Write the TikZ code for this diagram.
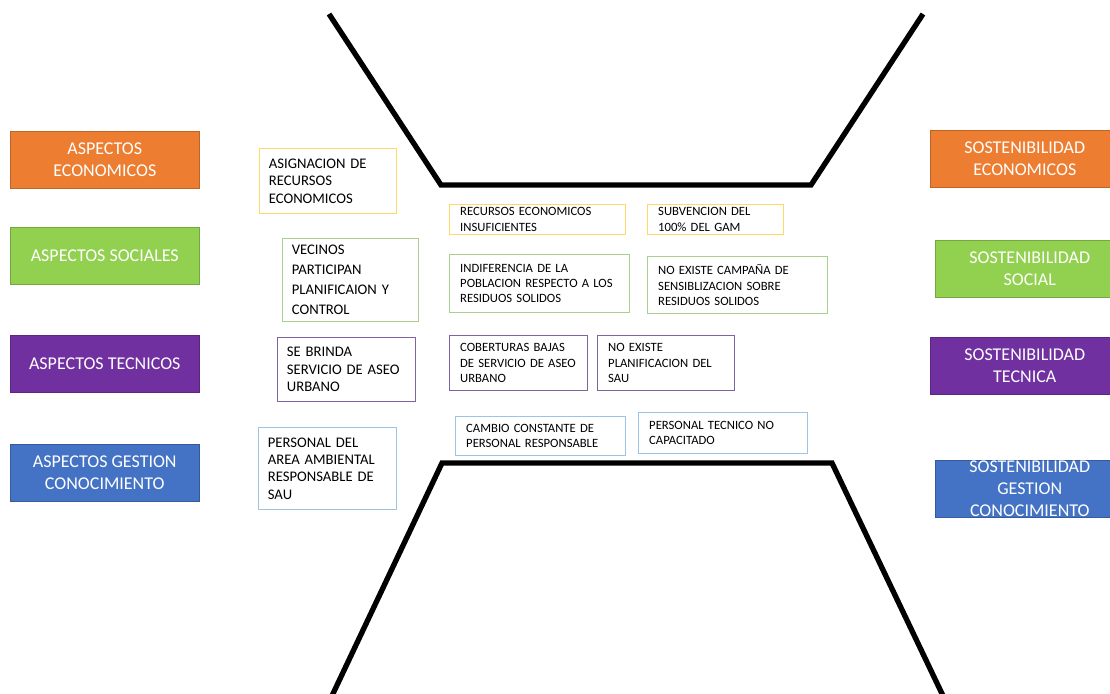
\documentclass[tikz,border=0pt]{standalone}
\usepackage{fontspec}
\setmainfont{Carlito}
\definecolor{naranja}{HTML}{ED7D31}
\definecolor{verde}{HTML}{92D050}
\definecolor{morado}{HTML}{7030A0}
\definecolor{azul}{HTML}{4472C4}
\definecolor{amarillo}{HTML}{FFD966}
\definecolor{verdeclaro}{HTML}{A9D18E}
\definecolor{celeste}{HTML}{9DC3E6}
\definecolor{lila}{HTML}{8064A2}
\begin{document}
\begin{tikzpicture}[x=0.75pt,y=-0.75pt,
    aspecto/.style={draw=#1!80!black,fill=#1,text=white,anchor=north west,align=center,
      minimum width=189*0.75pt,minimum height=57*0.75pt,inner sep=0pt,
      font=\fontsize{13.5}{16.5}\selectfont},
    tw/.code={\pgfmathsetlengthmacro\anchotexto{#1*0.75pt-2*\pgfkeysvalueof{/pgf/inner xsep}}%
      \pgfkeysalso{text width=\anchotexto}},
    dim/.style 2 args={tw=#1,minimum height=#2*0.75pt},
    lado/.style={draw=#1,line width=0.8pt,anchor=north west,align=left,inner xsep=7pt,
      inner ysep=2pt,font=\fontsize{11}{13}\selectfont},
    medio/.style={draw=#1,line width=0.8pt,anchor=north west,align=left,inner xsep=8pt,
      inner ysep=2pt,font=\fontsize{9.5}{11.5}\selectfont},
    embudo/.style={line width=4pt}]
  \useasboundingbox (0,0) rectangle (1110,693);
  \clip (0,0) rectangle (1110,693);

  \draw[embudo] (329,14) -- (441,185) -- (811,185) -- (923,14);
  \draw[embudo] (330,700) -- (442,463) -- (832,463) -- (945,700);

  \node[aspecto=naranja] (econ) at (10,131) {ASPECTOS\\ECONOMICOS};
  \node[aspecto=verde]   (soc)  at (10,227) {ASPECTOS SOCIALES};
  \node[aspecto=morado]  (tec)  at (10,335) {ASPECTOS TECNICOS};
  \node[aspecto=azul]    (gest) at (10,444) {ASPECTOS GESTION\\CONOCIMIENTO};

  \node[aspecto=naranja] (sosecon) at (930,130) {SOSTENIBILIDAD\\ECONOMICOS};
  \node[aspecto=verde]   (sossoc)  at (935,240) {SOSTENIBILIDAD\\SOCIAL};
  \node[aspecto=morado]  (sostec)  at (930,337) {SOSTENIBILIDAD\\TECNICA};
  \node[aspecto=azul]    (sosgest) at (935,460) {SOSTENIBILIDAD\\GESTION\\CONOCIMIENTO};

  \node[lado=amarillo,dim={137}{65}] (asig) at (259,148) {ASIGNACION DE\\RECURSOS\\ECONOMICOS};
  \node[lado=verdeclaro,dim={136}{83},font=\fontsize{11}{15}\selectfont] (vecinos) at (282,238)
    {VECINOS\\PARTICIPAN\\PLANIFICAION Y\\CONTROL};
  \node[lado=lila,dim={138}{64}] (brinda) at (277,337) {SE BRINDA\\SERVICIO DE ASEO\\URBANO};
  \node[lado=celeste,dim={138}{82}] (personal) at (258,427)
    {PERSONAL DEL\\AREA AMBIENTAL\\RESPONSABLE DE\\SAU};

  \node[medio=amarillo,dim={176}{30}] (recursos) at (449,204) {RECURSOS ECONOMICOS\\INSUFICIENTES};
  \node[medio=amarillo,dim={136}{30}] (subvencion) at (647,204) {SUBVENCION DEL\\100\% DEL GAM};
  \node[medio=verdeclaro,dim={180}{58}] (indiferencia) at (449,254)
    {INDIFERENCIA DE LA\\POBLACION RESPECTO A LOS\\RESIDUOS SOLIDOS};
  \node[medio=verdeclaro,dim={180}{57}] (campana) at (647,256)
    {NO EXISTE CAMPAÑA DE\\SENSIBLIZACION SOBRE\\RESIDUOS SOLIDOS};
  \node[medio=lila,dim={138}{55}] (coberturas) at (449,335)
    {COBERTURAS BAJAS\\DE SERVICIO DE ASEO\\URBANO};
  \node[medio=lila,dim={137}{55}] (planif) at (597,335) {NO EXISTE\\PLANIFICACION DEL\\SAU};
  \node[medio=celeste,dim={170}{39}] (cambio) at (455,416) {CAMBIO CONSTANTE DE\\PERSONAL RESPONSABLE};
  \node[medio=celeste,dim={169}{41}] (pertec) at (638,412) {PERSONAL TECNICO NO\\CAPACITADO};
\end{tikzpicture}
\end{document}
